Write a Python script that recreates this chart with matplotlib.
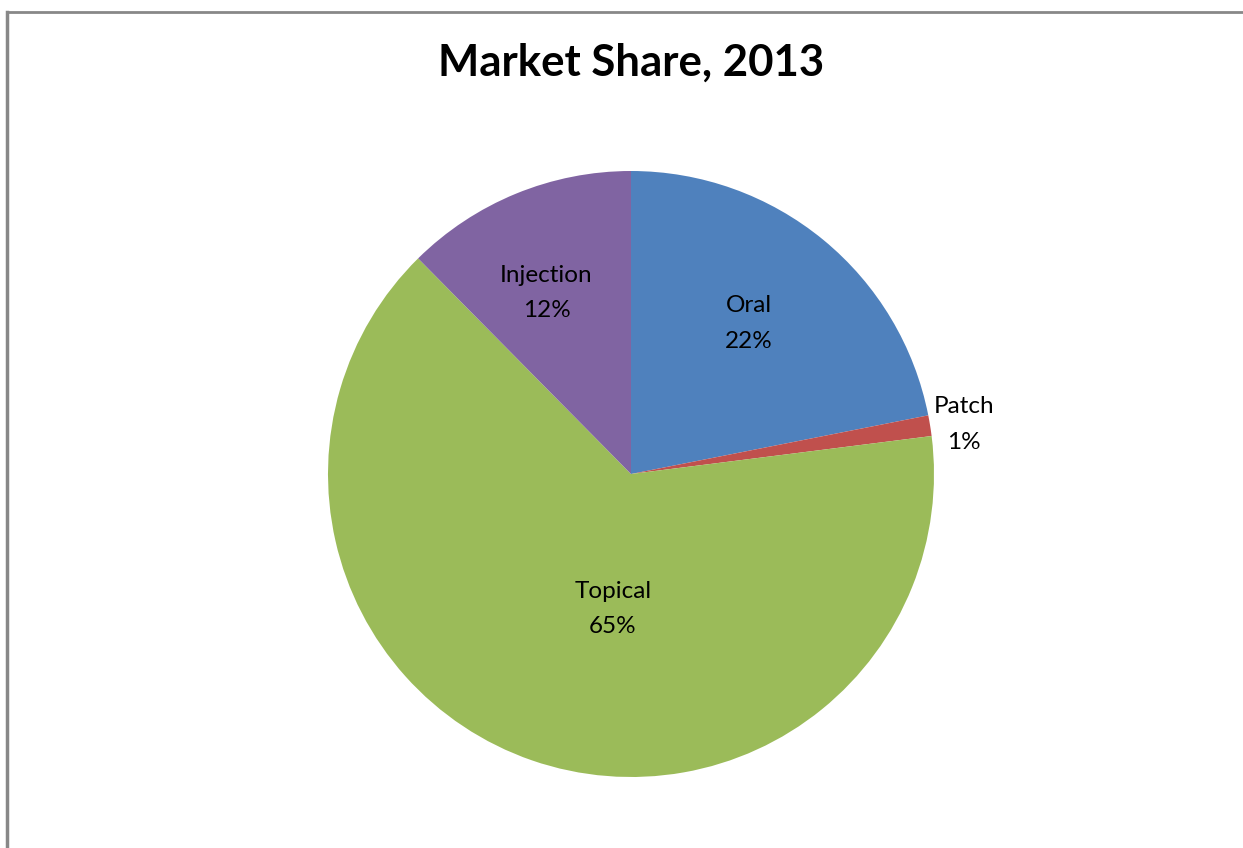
import numpy as np
import matplotlib
matplotlib.use("Agg")
import matplotlib.pyplot as plt

plt.rcParams['font.family'] = ['Lato', 'DejaVu Sans']

# data
categories = ['Oral', 'Patch', 'Topical', 'Injection']
shares = [21.9, 1.1, 64.6, 12.4]
pct_labels = ['22%', '1%', '65%', '12%']
colors = ['#4f81bd', '#c0504d', '#9bbb59', '#8064a2']

# where excel put each label (radius, angle in degrees)
label_pos = [(0.63, 52), (1.11, 8.5), (0.45, -97.6), (0.66, 115)]

fig = plt.figure(figsize=(12.43, 8.48), dpi=100)

# chart frame (only top and left visible in the crop)
fig.add_artist(plt.Line2D([7/1243, 1.0], [1 - 12/848, 1 - 12/848], color='#888888', lw=2))
fig.add_artist(plt.Line2D([7/1243, 7/1243], [0, 1 - 12/848], color='#888888', lw=2.5))

fig.text(631/1243, 1 - 63/848, 'Market Share, 2013', ha='center', va='center',
         fontsize=31.5, fontweight='bold')

ax = fig.add_axes([328/1243, 71/848, 606/1243, 606/848])
wedges, _ = ax.pie(shares, colors=colors, startangle=90, counterclock=False,
                   radius=1, wedgeprops=dict(linewidth=0))
ax.set_xlim(-1, 1)
ax.set_ylim(-1, 1)
ax.set_aspect('equal')
ax.axis('off')

for cat, pct, (r, a) in zip(categories, pct_labels, label_pos):
    x = r * np.cos(np.radians(a))
    y = r * np.sin(np.radians(a))
    ax.text(x, y, cat + '\n' + pct, ha='center', va='center', fontsize=17.5,
            linespacing=1.85, clip_on=False)

fig.savefig('out.png', dpi=100, facecolor='white')
